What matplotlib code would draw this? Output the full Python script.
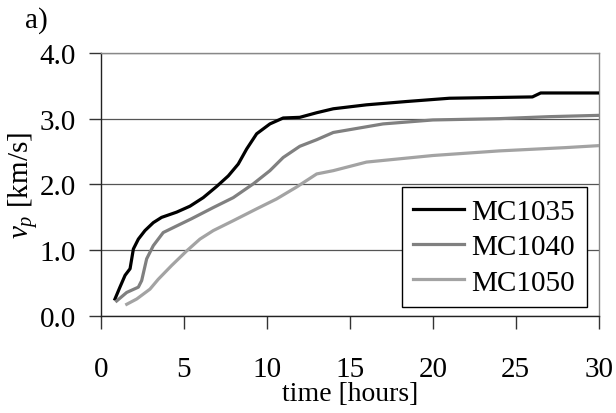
import matplotlib

matplotlib.use("Agg")
import matplotlib.pyplot as plt

plt.rcParams["font.family"] = ["Liberation Serif", "DejaVu Serif"]
plt.rcParams["mathtext.fontset"] = "custom"
plt.rcParams["mathtext.it"] = "Liberation Serif:italic"
plt.rcParams["mathtext.rm"] = "Liberation Serif"

# pulse velocity vs curing time
t_1035 = [0.84, 1.14, 1.45, 1.75, 1.95, 2.25, 2.65, 3.15, 3.65, 4.56, 5.36,
          6.16, 6.97, 7.67, 8.27, 8.78, 9.38, 10.18, 10.98, 11.98, 13.0, 14.0,
          16.0, 18.4, 21.0, 26.0, 26.5, 30.0]
v_1035 = [0.26, 0.44, 0.62, 0.72, 1.02, 1.17, 1.30, 1.42, 1.50, 1.58, 1.67,
          1.80, 1.97, 2.13, 2.31, 2.54, 2.77, 2.92, 3.01, 3.02, 3.09, 3.15,
          3.21, 3.26, 3.31, 3.33, 3.39, 3.39]

t_1040 = [0.94, 1.55, 2.25, 2.45, 2.75, 3.15, 3.75, 4.56, 5.46, 6.77, 7.97,
          9.18, 10.18, 10.98, 11.98, 13.0, 14.0, 17.0, 20.0, 24.0, 27.0, 30.0]
v_1040 = [0.23, 0.36, 0.44, 0.54, 0.87, 1.07, 1.27, 1.37, 1.48, 1.65, 1.80,
          2.01, 2.21, 2.41, 2.58, 2.68, 2.79, 2.92, 2.98, 3.0, 3.03, 3.05]

t_1050 = [1.55, 2.15, 2.95, 3.45, 4.26, 5.16, 5.96, 6.77, 7.97, 9.38, 10.58,
          11.78, 13.0, 14.0, 16.0, 20.0, 24.0, 28.0, 30.0]
v_1050 = [0.18, 0.26, 0.41, 0.56, 0.77, 0.99, 1.17, 1.30, 1.45, 1.63, 1.78,
          1.96, 2.16, 2.21, 2.34, 2.44, 2.51, 2.56, 2.59]

labels = ["MC1035", "MC1040", "MC1050"]
colors = ["#000000", "#808080", "#a3a3a3"]

fig = plt.figure(figsize=(6.16, 4.14), dpi=100)
ax = fig.add_axes([0.164, 0.234, 0.808, 0.636])

for t, v, lab, c in zip([t_1035, t_1040, t_1050], [v_1035, v_1040, v_1050],
                        labels, colors):
    ax.plot(t, v, color=c, lw=2.3, label=lab, zorder=3)

ax.set_xlim(0, 30)
ax.set_ylim(0, 4)
ax.set_xticks([0, 5, 10, 15, 20, 25, 30])
ax.set_yticks([0, 1, 2, 3, 4])
ax.set_yticklabels(["0.0", "1.0", "2.0", "3.0", "4.0"])
ax.yaxis.grid(True, color="#555555", lw=0.9)
ax.set_axisbelow(True)

ax.tick_params(axis="both", direction="out", length=9, width=1,
               labelsize=21, color="#333333")
ax.tick_params(axis="x", pad=20)
ax.tick_params(axis="y", pad=9)
for side in ["top", "right"]:
    ax.spines[side].set_color("#888888")
    ax.spines[side].set_linewidth(1)
for side in ["left", "bottom"]:
    ax.spines[side].set_color("#222222")
    ax.spines[side].set_linewidth(1)

ax.set_xlabel("time [hours]", fontsize=20, labelpad=-1)
ax.set_ylabel(r"$v_p$ [km/s]", fontsize=21)
ax.yaxis.set_label_coords(-0.122, 0.5)

leg = ax.legend(loc="lower right", bbox_to_anchor=(0.976, 0.034),
                borderaxespad=0, fontsize=21, fancybox=False, edgecolor="black",
                framealpha=1, handlelength=1.75, labelspacing=0.3,
                borderpad=0.4, handletextpad=0.25)
leg.get_frame().set_linewidth(1)

fig.text(0.04, 0.932, "a)", fontsize=21, va="baseline")

fig.savefig("out.png", dpi=100)
